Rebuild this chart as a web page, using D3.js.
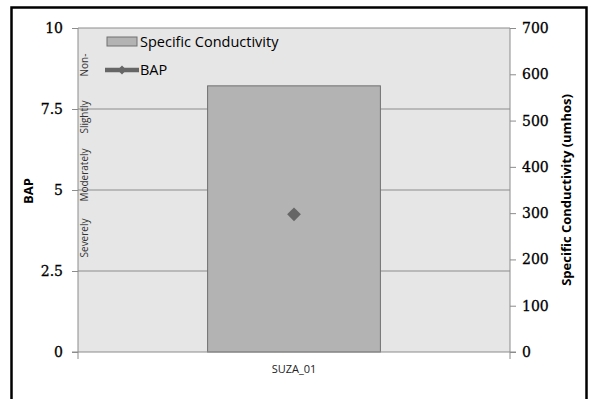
<!DOCTYPE html>
<html><head><meta charset="utf-8">
<script src="https://cdn.jsdelivr.net/npm/d3@7"></script>
<style>body{margin:0;background:#fff}svg{display:block}</style>
</head><body>
<svg id="c" width="590" height="399"></svg>
<script>
const categories = ["SUZA_01"];
const conductivity = [575];
const bap = [4.25];
const bapTicks = [0, 2.5, 5, 7.5, 10];
const condTicks = [0, 100, 200, 300, 400, 500, 600, 700];
const bands = [
  {label: "Severely", y: 238},
  {label: "Moderately", y: 175},
  {label: "Slightly", y: 117},
  {label: "Non-", y: 65}
];

const svg = d3.select("#c");
const L = 78, R = 510, T = 28, B = 352;
const numFont = "'DejaVu Serif', 'Liberation Serif', serif";
const txtFont = "'Open Sans', 'Liberation Sans', sans-serif";

// outer border
svg.append("rect").attr("x", 11.5).attr("y", 7.5).attr("width", 575).attr("height", 400)
  .attr("fill", "#fff").attr("stroke", "#000").attr("stroke-width", 2.5);

const x = d3.scaleBand().domain(categories).range([L, R]).paddingInner(0.6).paddingOuter(0.3);
const yL = d3.scaleLinear().domain([0, 10]).range([B, T]);
const yR = d3.scaleLinear().domain([0, 700]).range([B, T]);

svg.append("rect").attr("x", L).attr("y", T).attr("width", R - L).attr("height", B - T).attr("fill", "#e6e6e6");

// gridlines
svg.append("g").selectAll("line").data(bapTicks.filter(d => d > 0)).join("line")
  .attr("x1", L).attr("x2", R).attr("y1", d => yL(d)).attr("y2", d => yL(d))
  .attr("stroke", "#8c8c8c").attr("stroke-width", 1);

// bars
svg.append("g").selectAll("rect").data(categories).join("rect")
  .attr("x", d => x(d)).attr("width", x.bandwidth())
  .attr("y", (d, i) => yR(conductivity[i])).attr("height", (d, i) => B - yR(conductivity[i]))
  .attr("fill", "#b3b3b3").attr("stroke", "#707070").attr("stroke-width", 1);

// BAP points
const diamond = d3.symbol().type(d3.symbolDiamond2).size(120);
svg.append("g").selectAll("path").data(categories).join("path")
  .attr("d", diamond)
  .attr("transform", (d, i) => `translate(${x(d) + x.bandwidth() / 2},${yL(bap[i])})`)
  .attr("fill", "#666");

// left axis
const gL = svg.append("g").attr("transform", `translate(${L},0)`)
  .call(d3.axisLeft(yL).tickValues(bapTicks).tickFormat(d => d).tickSize(6).tickPadding(9));
gL.select(".domain").attr("stroke", "#8c8c8c").attr("d", `M0,${T}V${B}`);
gL.selectAll(".tick line").attr("stroke", "#8c8c8c");
gL.selectAll("text").attr("font-family", numFont).attr("font-size", 14).attr("fill", "#000")
  .attr("stroke", "#000").attr("stroke-width", 0.3);

// right axis
const gR = svg.append("g").attr("transform", `translate(${R},0)`)
  .call(d3.axisRight(yR).tickValues(condTicks).tickSize(6).tickPadding(6));
gR.select(".domain").attr("stroke", "#8c8c8c").attr("d", `M0,${T}V${B}`);
gR.selectAll(".tick line").attr("stroke", "#8c8c8c");
gR.selectAll("text").attr("font-family", numFont).attr("font-size", 14).attr("fill", "#000")
  .attr("stroke", "#000").attr("stroke-width", 0.3);

// bottom axis
const gB = svg.append("g").attr("transform", `translate(0,${B})`)
  .call(d3.axisBottom(x).tickSize(0).tickPadding(13));
gB.select(".domain").attr("stroke", "#8c8c8c").attr("d", `M${L - 6},0H${R + 6}M${L},0V7M${R},0V7`);
gB.selectAll("text").attr("font-family", txtFont).attr("font-size", 11).attr("fill", "#222");

// band labels
svg.append("g").selectAll("text").data(bands).join("text")
  .attr("transform", d => `translate(88,${d.y}) rotate(-90)`)
  .attr("text-anchor", "middle")
  .attr("font-family", txtFont).attr("font-size", 10).attr("fill", "#333")
  .text(d => d.label);

// axis titles
svg.append("text").attr("transform", "translate(33,191) rotate(-90)").attr("text-anchor", "middle")
  .attr("font-family", txtFont).attr("font-weight", "bold").attr("font-size", 13).text("BAP");
svg.append("text").attr("transform", "translate(571,190) rotate(-90)").attr("text-anchor", "middle")
  .attr("font-family", txtFont).attr("font-weight", "bold").attr("font-size", 13).text("Specific Conductivity (umhos)");

// legend
const lg = svg.append("g");
lg.append("rect").attr("x", 107).attr("y", 37).attr("width", 30).attr("height", 9)
  .attr("fill", "#b3b3b3").attr("stroke", "#707070");
lg.append("text").attr("x", 140).attr("y", 47).attr("font-family", txtFont).attr("font-size", 14.5)
  .attr("fill", "#000").text("Specific Conductivity");
lg.append("line").attr("x1", 105).attr("x2", 139).attr("y1", 70).attr("y2", 70)
  .attr("stroke", "#666").attr("stroke-width", 4.5);
lg.append("path").attr("d", d3.symbol().type(d3.symbolDiamond2).size(50)).attr("transform", "translate(122,70)").attr("fill", "#666");
lg.append("text").attr("x", 140).attr("y", 75).attr("font-family", txtFont).attr("font-size", 14.5)
  .attr("fill", "#000").text("BAP");
</script>
</body></html>
